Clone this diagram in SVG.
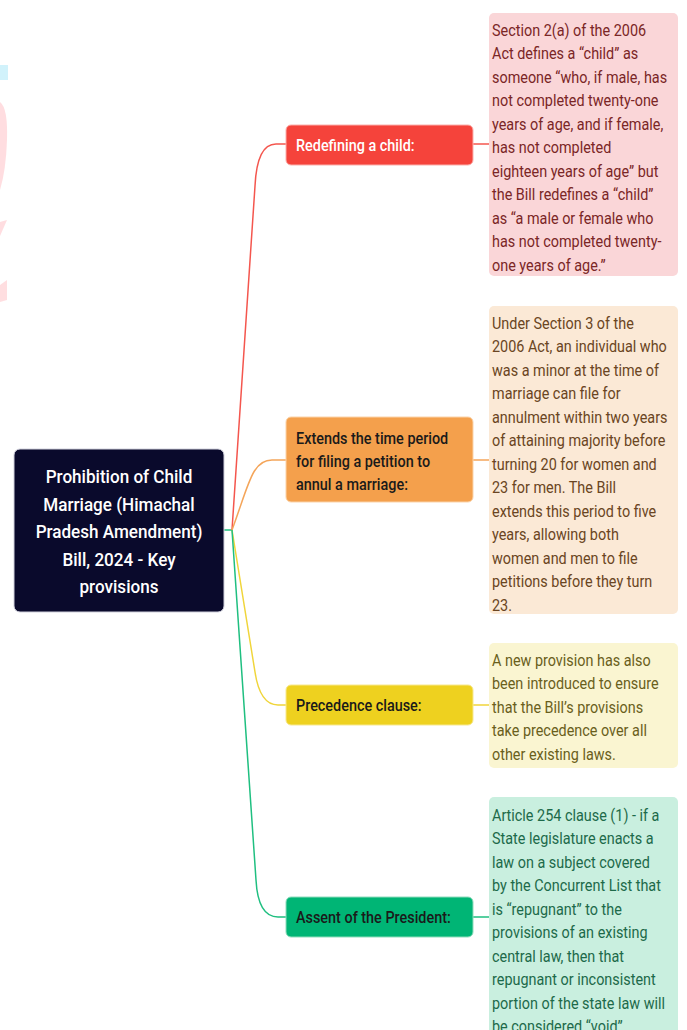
<svg xmlns="http://www.w3.org/2000/svg" width="687" height="1030" viewBox="0 0 687 1030">
<style>
.t{font-family:Roboto,"Liberation Sans",sans-serif}
.root{font-size:19px;font-weight:500;fill:#ffffff;text-anchor:middle}
.br{font-size:16px;font-weight:500}
.dt{font-size:16px}
.con{fill:none;stroke-width:1.5}
</style>
<rect width="687" height="1030" fill="#ffffff"/>
<g id="watermark" opacity="0.9">
<rect x="0" y="65" width="8" height="15" fill="#cdf1fb"/>
<path d="M0,102 Q8,108 7,140 Q6,170 0,190 Z" fill="#ffdadd"/>
<path d="M0,222 L7,220 L0,236 Z" fill="#ffdadd"/>
<path d="M0,285 L7,280 L7,300 L0,302 Z" fill="#ffdadd"/>
</g>
<g id="connectors">
<path class="con" stroke="#1fbf80" d="M224,530 L232,530"/>
<path class="con" stroke="#f4564e" d="M232,530 L255,186 Q257,144 276,144 L286,144"/>
<path class="con" stroke="#f4a55a" d="M232,530 C249,484 252,460 272,460 L286,460"/>
<path class="con" stroke="#f0d53a" d="M232,530 L255,672 Q260,705 278,705 L286,705"/>
<path class="con" stroke="#1fbf80" d="M232,530 L256,880 Q258,917 278,917 L286,917"/>
<path class="con" stroke="#f4564e" d="M473,144 L489,144"/>
<path class="con" stroke="#f4a55a" d="M473,460 L489,460"/>
<path class="con" stroke="#f0d53a" d="M473,705 L489,705"/>
<path class="con" stroke="#1fbf80" d="M473,917 L489,917"/>
</g>
<g id="root">
<rect x="14" y="449" width="210" height="163" rx="6" fill="#0a0a2c" stroke="#d0d0dc" stroke-width="1"/>
<g transform="translate(119,0) scale(0.9,1)">
<text class="t root" x="0" y="483">Prohibition of Child</text>
<text class="t root" x="0" y="511">Marriage (Himachal</text>
<text class="t root" x="0" y="538">Pradesh Amendment)</text>
<text class="t root" x="0" y="566">Bill, 2024 - Key</text>
<text class="t root" x="0" y="593">provisions</text>
</g>
</g>
<g id="n1">
<rect x="286" y="125" width="187" height="40" rx="5" fill="#f5433b" stroke="#fbb0ac" stroke-width="1"/>
<g transform="translate(296,0) scale(0.9,1)"><text class="t br" x="0" y="151" fill="#ffffff">Redefining a child:</text></g>
</g>
<g id="n2">
<rect x="286" y="417" width="187" height="85" rx="5" fill="#f4a04c" stroke="#fbd3a9" stroke-width="1"/>
<g transform="translate(296,0) scale(0.9,1)" fill="#1a1a1a">
<text class="t br" x="0" y="444">Extends the time period</text>
<text class="t br" x="0" y="467">for filing a petition to</text>
<text class="t br" x="0" y="490">annul a marriage:</text>
</g>
</g>
<g id="n3">
<rect x="286" y="685" width="187" height="40" rx="5" fill="#eed11f" stroke="#f7e88f" stroke-width="1"/>
<g transform="translate(296,0) scale(0.9,1)"><text class="t br" x="0" y="711" fill="#1a1a1a">Precedence clause:</text></g>
</g>
<g id="n4">
<rect x="286" y="897" width="187" height="40" rx="5" fill="#00b575" stroke="#8fdcbc" stroke-width="1"/>
<g transform="translate(296,0) scale(0.9,1)"><text class="t br" x="0" y="923" fill="#1a1a1a">Assent of the President:</text></g>
</g>
<g id="d1">
<rect x="489" y="13" width="189" height="263" rx="5" fill="#fad6d8"/>
<g transform="translate(492,0) scale(0.9,1)" fill="#7a2626">
<text class="t dt" x="0" y="36">Section 2(a) of the 2006</text>
<text class="t dt" x="0" y="59.5">Act defines a “child” as</text>
<text class="t dt" x="0" y="83">someone “who, if male, has</text>
<text class="t dt" x="0" y="106.5">not completed twenty-one</text>
<text class="t dt" x="0" y="130">years of age, and if female,</text>
<text class="t dt" x="0" y="153.5">has not completed</text>
<text class="t dt" x="0" y="177">eighteen years of age” but</text>
<text class="t dt" x="0" y="200.5">the Bill redefines a “child”</text>
<text class="t dt" x="0" y="224">as “a male or female who</text>
<text class="t dt" x="0" y="247.5">has not completed twenty-</text>
<text class="t dt" x="0" y="271">one years of age.”</text>
</g>
</g>
<g id="d2">
<rect x="489" y="306" width="189" height="308" rx="5" fill="#fbe9d6"/>
<g transform="translate(492,0) scale(0.9,1)" fill="#6a4522">
<text class="t dt" x="0" y="329">Under Section 3 of the</text>
<text class="t dt" x="0" y="352.5">2006 Act, an individual who</text>
<text class="t dt" x="0" y="376">was a minor at the time of</text>
<text class="t dt" x="0" y="399.5">marriage can file for</text>
<text class="t dt" x="0" y="423">annulment within two years</text>
<text class="t dt" x="0" y="446.5">of attaining majority before</text>
<text class="t dt" x="0" y="470">turning 20 for women and</text>
<text class="t dt" x="0" y="493.5">23 for men. The Bill</text>
<text class="t dt" x="0" y="517">extends this period to five</text>
<text class="t dt" x="0" y="540.5">years, allowing both</text>
<text class="t dt" x="0" y="564">women and men to file</text>
<text class="t dt" x="0" y="587.5">petitions before they turn</text>
<text class="t dt" x="0" y="611">23.</text>
</g>
</g>
<g id="d3">
<rect x="489" y="643" width="189" height="125" rx="5" fill="#faf5d1"/>
<g transform="translate(492,0) scale(0.9,1)" fill="#6a5f1c">
<text class="t dt" x="0" y="666">A new provision has also</text>
<text class="t dt" x="0" y="689.5">been introduced to ensure</text>
<text class="t dt" x="0" y="713">that the Bill’s provisions</text>
<text class="t dt" x="0" y="736.5">take precedence over all</text>
<text class="t dt" x="0" y="760">other existing laws.</text>
</g>
</g>
<g id="d4">
<rect x="489" y="797" width="189" height="245" rx="5" fill="#c9efdf"/>
<g transform="translate(492,0) scale(0.9,1)" fill="#1d6a4a">
<text class="t dt" x="0" y="821">Article 254 clause (1) - if a</text>
<text class="t dt" x="0" y="844.5">State legislature enacts a</text>
<text class="t dt" x="0" y="868">law on a subject covered</text>
<text class="t dt" x="0" y="891.5">by the Concurrent List that</text>
<text class="t dt" x="0" y="915">is “repugnant” to the</text>
<text class="t dt" x="0" y="938.5">provisions of an existing</text>
<text class="t dt" x="0" y="962">central law, then that</text>
<text class="t dt" x="0" y="985.5">repugnant or inconsistent</text>
<text class="t dt" x="0" y="1009">portion of the state law will</text>
<text class="t dt" x="0" y="1032.5">be considered “void”</text>
</g>
</g>
</svg>
